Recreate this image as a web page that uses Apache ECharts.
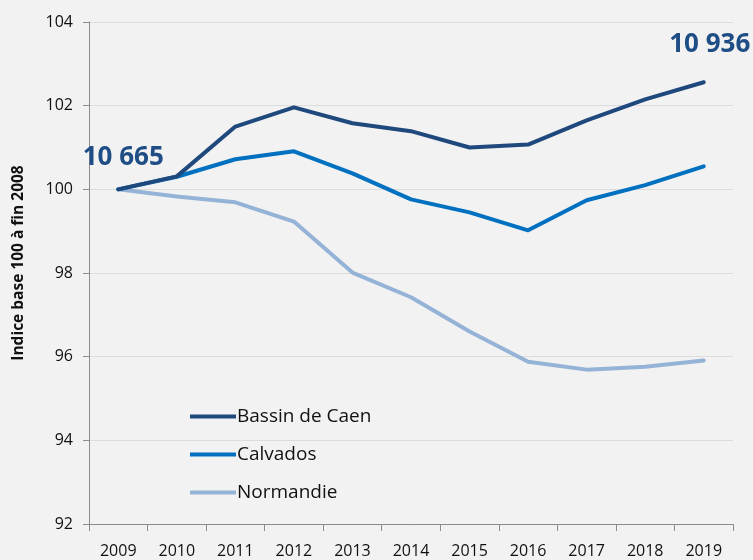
<!DOCTYPE html>
<html><head><meta charset="utf-8">
<script src="https://cdn.jsdelivr.net/npm/echarts@6/dist/echarts.min.js"></script>
<style>html,body{margin:0;padding:0;background:#F2F2F2}#c{width:753px;height:560px}</style>
</head><body><div id="c"></div>
<script>
const years = ['2009','2010','2011','2012','2013','2014','2015','2016','2017','2018','2019'];
const bassinCaen = [100, 100.31, 101.5, 101.96, 101.58, 101.39, 101.0, 101.07, 101.65, 102.15, 102.56];
const calvados = [100, 100.3, 100.72, 100.91, 100.38, 99.76, 99.45, 99.02, 99.74, 100.1, 100.55];
const normandie = [100, 99.83, 99.69, 99.23, 98.01, 97.42, 96.6, 95.88, 95.69, 95.76, 95.91];
const startLabel = '10 665';
const endLabel = '10 936';
const yTicks = {min: 92, max: 104, interval: 2};

const font = 'Open Sans, Noto Sans, sans-serif';
const chart = echarts.init(document.getElementById('c'), null, {renderer: 'canvas'});
const lblStyle = {show: true, position: 'top', fontFamily: font, fontWeight: 'bold', fontSize: 26, color: '#1F4E86'};
const bassinData = bassinCaen.map((v, i) => {
  if (i === 0) return {value: v, label: Object.assign({}, lblStyle, {formatter: startLabel, offset: [5, -14]})};
  if (i === bassinCaen.length - 1) return {value: v, label: Object.assign({}, lblStyle, {formatter: endLabel, offset: [6, -20]})};
  return v;
});
const mk = (name, data, color) => ({
  name, type: 'line', data, symbol: 'circle', symbolSize: 0, showSymbol: true, smooth: false,
  lineStyle: {color, width: 4, cap: 'round', join: 'round'}, itemStyle: {color},
  emphasis: {disabled: true}, animation: false
});
chart.setOption({
  backgroundColor: '#F2F2F2',
  animation: false,
  grid: {left: 89, right: 20, top: 22, bottom: 36, outerBoundsMode: 'none', containLabel: false},
  legend: {
    orient: 'vertical', left: 185, top: 402, itemGap: 19, itemWidth: 46, itemHeight: 14,
    textStyle: {fontFamily: font, fontSize: 19, color: '#111', padding: [0, 0, 0, -4]},
    data: [
      {name: 'Bassin de Caen', icon: 'path://M0,0 L46,0 L46,4 L0,4 Z'},
      {name: 'Calvados', icon: 'path://M0,0 L46,0 L46,4 L0,4 Z'},
      {name: 'Normandie', icon: 'path://M0,0 L46,0 L46,4 L0,4 Z'}
    ]
  },
  xAxis: {
    type: 'category', data: years, boundaryGap: true,
    axisLine: {lineStyle: {color: '#8C8C8C', width: 1}},
    axisTick: {show: true, length: 7, lineStyle: {color: '#8C8C8C'}},
    axisLabel: {fontFamily: font, fontSize: 16, color: '#111', margin: 19}
  },
  yAxis: {
    type: 'value', min: yTicks.min, max: yTicks.max, interval: yTicks.interval,
    name: 'Indice base 100 à fin 2008', nameLocation: 'middle', nameGap: 62, nameRotate: 90,
    nameTextStyle: {fontFamily: font, fontWeight: 'bold', fontSize: 15.5, color: '#111', padding: [0, 0, 0, 20]},
    axisLine: {show: true, lineStyle: {color: '#8C8C8C'}},
    axisTick: {show: true, length: 6, inside: false, lineStyle: {color: '#8C8C8C'}},
    splitLine: {lineStyle: {color: '#DCDCDC', width: 1}},
    axisLabel: {fontFamily: font, fontSize: 16, color: '#111', margin: 16}
  },
  series: [
    mk('Normandie', normandie, '#95B3D7'),
    mk('Calvados', calvados, '#0070C0'),
    mk('Bassin de Caen', bassinData, '#1F497D')
  ]
});
</script></body></html>
